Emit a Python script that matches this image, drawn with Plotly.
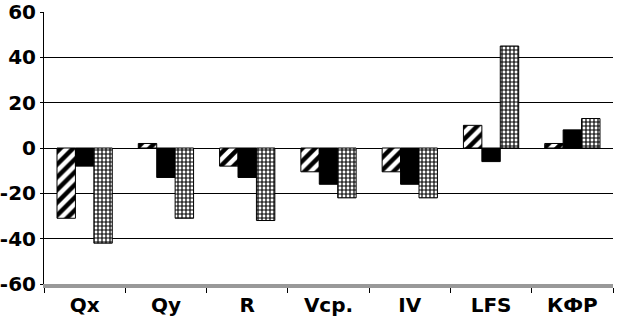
import plotly.graph_objects as go

categories = ["Qx", "Qy", "R", "Vcp.", "IV", "LFS", "КФР"]
series_hatched = [-31, 2, -8, -10.5, -10.5, 10, 2]
series_black = [-8, -13, -13, -16, -16, -6, 8]
series_checked = [-42, -31, -32, -22, -22, 45, 13]
y_ticks = [-60, -40, -20, 0, 20, 40, 60]

fig = go.Figure()
fig.add_trace(go.Bar(
    x=categories, y=series_hatched, name="A",
    marker=dict(color="white", line=dict(color="black", width=1),
                pattern=dict(shape="/", fgcolor="black", bgcolor="white",
                             size=9, solidity=0.5, fillmode="replace")),
))
fig.add_trace(go.Bar(
    x=categories, y=series_black, name="B",
    marker=dict(color="black", line=dict(color="black", width=1)),
))
fig.add_trace(go.Bar(
    x=categories, y=series_checked, name="C",
    marker=dict(color="white", line=dict(color="black", width=1),
                pattern=dict(shape="+", fgcolor="black", bgcolor="white",
                             size=4, solidity=0.5, fillmode="replace")),
))

fam = "DejaVu Sans, sans-serif"
fig.update_layout(
    width=618, height=324,
    margin=dict(l=44, r=5, t=12, b=40),
    paper_bgcolor="white", plot_bgcolor="white",
    barmode="group", bargap=0.32, bargroupgap=0,
    showlegend=False,
    font=dict(family=fam, size=20, color="black"),
)
fig.update_yaxes(
    range=[-60, 60], tickvals=y_ticks, ticktext=[str(v) for v in y_ticks],
    automargin=False, ticklabeloverflow="allow",
    showgrid=True, gridcolor="black", gridwidth=1,
    zeroline=True, zerolinecolor="black", zerolinewidth=1,
    showline=True, linecolor="black", linewidth=1,
    ticks="outside", ticklen=3, tickcolor="black",
    tickfont=dict(family=fam, size=20, color="black", weight="bold"),
)
fig.update_xaxes(
    automargin=False, ticklabeloverflow="allow",
    showline=True, linecolor="#999999", linewidth=4,
    ticks="outside", tickson="boundaries", ticklen=5, tickcolor="black",
    tickfont=dict(family=fam, size=20, color="black", weight="bold"),
)
fig.write_html("out.html", config={"displayModeBar": False},
               post_script="document.body.style.margin='0px';")
